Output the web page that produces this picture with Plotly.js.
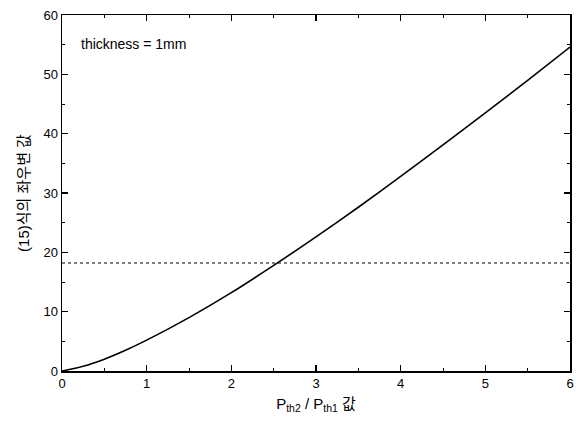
<!DOCTYPE html>
<html>
<head>
<meta charset="utf-8">
<script src="https://cdn.plot.ly/plotly-3.0.1.min.js"></script>
<style>html,body{margin:0;padding:0;background:#fff;}#chart{width:576px;height:421px;}</style>
</head>
<body>
<div id="chart"></div>
<script>
const ratio = [0, 0.25, 0.5, 0.75, 1, 1.5, 2, 2.5, 3, 3.5, 4, 4.5, 5, 5.5, 6];
const value = [0, 0.8, 2.0, 3.5, 5.2, 9.0, 13.2, 17.8, 22.6, 27.6, 32.8, 38.1, 43.5, 49.0, 54.6];
const refX = [0, 6];
const refY = [18.2, 18.2];
const xTitle = 'P<sub>th2</sub> / P<sub>th1</sub> 값';
const yTitle = '(15)식의 좌우변 값';
const note = 'thickness = 1mm';

const font = 'Liberation Sans, Arial, "Noto Sans CJK KR", sans-serif';
const traces = [
  {x: ratio, y: value, mode: 'lines', line: {color: '#000', width: 1.6, shape: 'spline', smoothing: 0.8}, hoverinfo: 'none'},
  {x: refX, y: refY, mode: 'lines', line: {color: '#000', width: 1, dash: 'dot'}, hoverinfo: 'none'}
];
const axisCommon = {
  showgrid: false, zeroline: false, showline: true, linecolor: '#000', linewidth: 1.5,
  mirror: 'allticks', ticks: 'inside', ticklen: 6, tickwidth: 1.2, tickcolor: '#000',
  tickfont: {family: font, size: 13, color: '#000'},
  minor: {ticks: 'inside', ticklen: 3, tickwidth: 1, tickcolor: '#000'}
};
const layout = {
  width: 576, height: 421,
  margin: {l: 62, r: 6, t: 15, b: 50},
  paper_bgcolor: '#fff', plot_bgcolor: '#fff',
  showlegend: false,
  font: {family: font, color: '#000'},
  xaxis: Object.assign({}, axisCommon, {
    range: [0, 6], tickvals: [0,1,2,3,4,5,6], minor: Object.assign({}, axisCommon.minor, {dtick: 0.5}),
    title: {text: xTitle, font: {family: font, size: 15, color: '#000'}, standoff: 8}
  }),
  yaxis: Object.assign({}, axisCommon, {
    range: [0, 60], tickvals: [0,10,20,30,40,50,60], minor: Object.assign({}, axisCommon.minor, {dtick: 5}),
    title: {text: yTitle, font: {family: font, size: 15, color: '#000'}, standoff: 10}
  }),
  annotations: [{
    x: 0.033, y: 0.918, xref: 'paper', yref: 'paper', xanchor: 'left', yanchor: 'middle',
    text: note, showarrow: false, font: {family: font, size: 14, color: '#000'}
  }]
};
Plotly.newPlot('chart', traces, layout, {staticPlot: true, displayModeBar: false});
</script>
</body>
</html>
